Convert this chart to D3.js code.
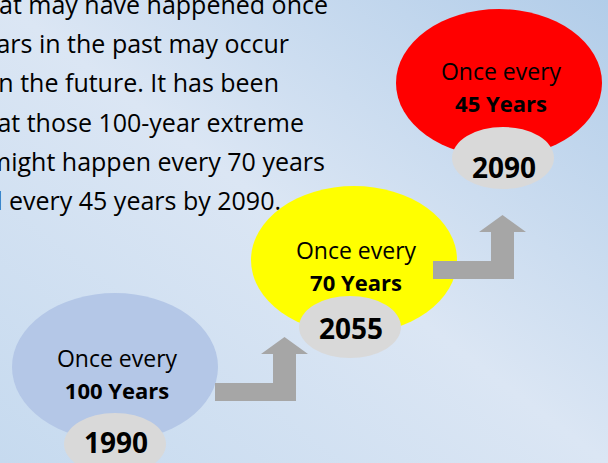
<!DOCTYPE html>
<html>
<head>
<meta charset="utf-8">
<script src="https://cdn.jsdelivr.net/npm/d3@7"></script>
<style>
    body { margin: 0; }
    svg { display: block; }
</style>
</head>
<body>
<svg id="drawing_region"></svg>
<script>
// return period of a 100-year event, by year
const years = [1990, 2055, 2090];
const periods = [100, 70, 45];
const fills = ['#b4c7e7', '#ffff00', '#ff0000'];

// paragraph lines (left part falls off the picture)
const paragraph = [
    'events that may have happened once',
    'every 100 years in the past may occur',
    'more frequently in the future. It has been',
    'estimated that those 100-year extreme',
    'events might happen every 70 years',
    'by 2055 and every 45 years by 2090.'
];

const width = 608, height = 463;

const svg = d3.select('#drawing_region')
    .attr('width', width)
    .attr('height', height);

// background
const grad = svg.append('defs').append('linearGradient')
    .attr('id', 'bg')
    .attr('x1', 1).attr('y1', 0).attr('x2', 0).attr('y2', 1);
grad.append('stop').attr('offset', 0).attr('stop-color', '#b2cde9');
grad.append('stop').attr('offset', 0.5).attr('stop-color', '#dbe6f4');
grad.append('stop').attr('offset', 1).attr('stop-color', '#c6daef');

svg.append('rect')
    .attr('width', width)
    .attr('height', height)
    .attr('fill', 'url(#bg)');

// paragraph
const lineY = d3.scalePoint().domain(d3.range(paragraph.length)).range([14, 210]);
const lineEnd = d3.scaleOrdinal().domain(d3.range(paragraph.length))
    .range([328, 289, 279, 304, 325, 281]);

svg.append('g')
    .selectAll('text')
    .data(paragraph)
    .join('text')
    .attr('x', (d, i) => lineEnd(i))
    .attr('y', (d, i) => lineY(i))
    .attr('text-anchor', 'end')
    .attr('font-family', 'Open Sans')
    .attr('font-size', 25)
    .attr('fill', '#000')
    .text(d => d);

// layout scales
const xscale = d3.scaleOrdinal().domain(years).range([115, 354, 499]);
const yscale = d3.scaleOrdinal().domain(years).range([367, 260, 83]);
const badgeX = d3.scaleOrdinal().domain(years).range([115, 350, 503]);
const badgeY = d3.scaleOrdinal().domain(years).range([444, 327, 158]);
const labelY = d3.scaleOrdinal().domain(years).range([367, 259, 80]);
const yearY = d3.scaleOrdinal().domain(years).range([453, 339, 178]);
const color = d3.scaleOrdinal().domain(years).range(fills);

const steps = years.map((y, i) => ({ year: y, period: periods[i] }));

const g = svg.append('g');

g.selectAll('ellipse.big')
    .data(steps)
    .join('ellipse')
    .attr('class', 'big')
    .attr('cx', d => xscale(d.year))
    .attr('cy', d => yscale(d.year))
    .attr('rx', 103)
    .attr('ry', 74)
    .attr('fill', d => color(d.year));

g.selectAll('text.once')
    .data(steps)
    .join('text')
    .attr('class', 'once')
    .attr('x', d => xscale(d.year) + 2)
    .attr('y', d => labelY(d.year))
    .attr('text-anchor', 'middle')
    .attr('font-family', 'Open Sans')
    .attr('font-size', 23)
    .text('Once every');

g.selectAll('text.period')
    .data(steps)
    .join('text')
    .attr('class', 'period')
    .attr('x', d => xscale(d.year) + 2)
    .attr('y', d => labelY(d.year) + 32)
    .attr('text-anchor', 'middle')
    .attr('font-family', 'Open Sans')
    .attr('font-weight', 'bold')
    .attr('font-size', 22)
    .text(d => d.period + ' Years');

g.selectAll('ellipse.badge')
    .data(steps)
    .join('ellipse')
    .attr('class', 'badge')
    .attr('cx', d => badgeX(d.year))
    .attr('cy', d => badgeY(d.year))
    .attr('rx', 51)
    .attr('ry', 31)
    .attr('fill', '#d9d9d9');

g.selectAll('text.year')
    .data(steps)
    .join('text')
    .attr('class', 'year')
    .attr('x', d => badgeX(d.year) + 1)
    .attr('y', d => yearY(d.year))
    .attr('text-anchor', 'middle')
    .attr('font-family', 'Open Sans')
    .attr('font-weight', 'bold')
    .attr('font-size', 28)
    .text(d => d.year);

// bent arrows between steps
const arrowX = d3.scaleOrdinal().domain(years.slice(1)).range([215, 433]);
const arrowY = d3.scaleOrdinal().domain(years.slice(1)).range([401, 279]);
const arrowPath = 'M0,0 H81 V-47 H93 L69.5,-64 L46,-47 H58 V-18 H0 Z';

g.selectAll('path.arrow')
    .data(years.slice(1))
    .join('path')
    .attr('class', 'arrow')
    .attr('transform', d => `translate(${arrowX(d)}, ${arrowY(d)})`)
    .attr('d', arrowPath)
    .attr('fill', '#a6a6a6');
</script>
</body>
</html>
